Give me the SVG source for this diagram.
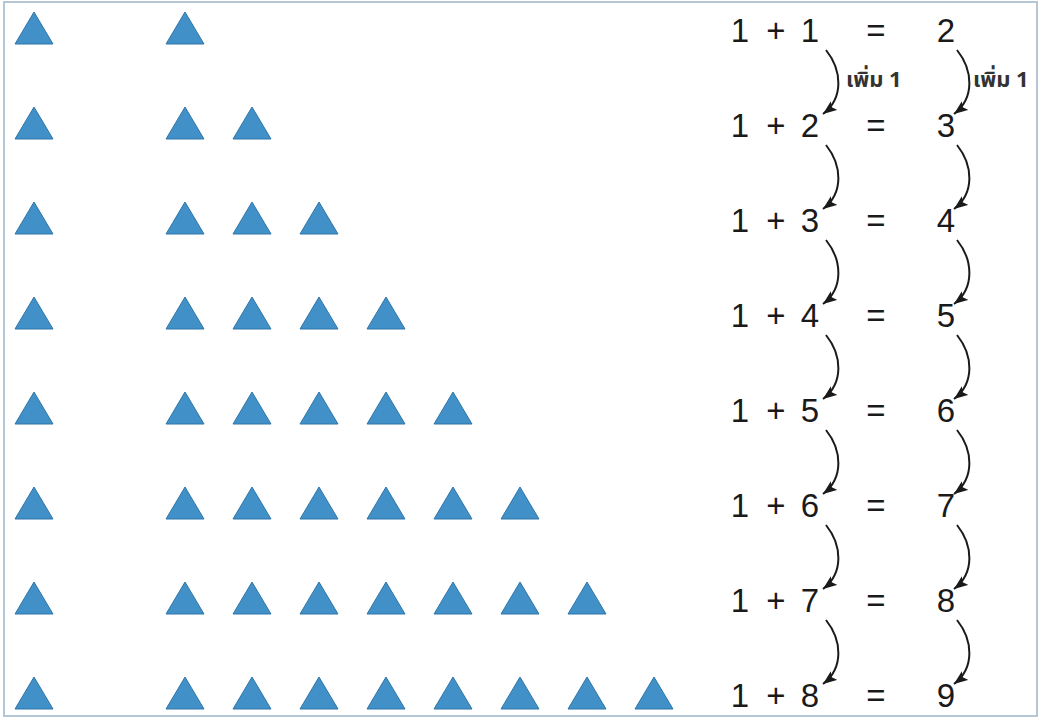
<svg xmlns="http://www.w3.org/2000/svg" width="1041" height="719" viewBox="0 0 1041 719">
<style>
.tri{fill:#4190c7;stroke:#2f76aa;stroke-width:1;stroke-linejoin:round}
.eq{font-family:"Liberation Sans",Arial,sans-serif;font-size:33px;fill:#1a1a1a;text-anchor:middle}
.lbl{font-family:"Noto Sans","Noto Sans Thai","DejaVu Sans",sans-serif;font-size:22px;font-weight:bold;fill:#333}
.arc{fill:none;stroke:#1a1a1a;stroke-width:2;marker-end:url(#ah)}
</style>
<defs>
<marker id="ah" markerUnits="userSpaceOnUse" markerWidth="15" markerHeight="11" refX="14" refY="5.5" orient="auto">
<path d="M0,0 L14,5.5 L0,11 L3,5.5 z" fill="#1a1a1a"/>
</marker>
<path id="t" d="M-19,0 L0,-32 L19,0 z"/>
</defs>
<rect x="0" y="0" width="1041" height="719" fill="#ffffff"/>
<rect x="4" y="2" width="1033" height="714" fill="none" stroke="#b5c7d5" stroke-width="2"/>

<g id="row1"><use href="#t" class="tri" x="34" y="44"/><use href="#t" class="tri" x="185" y="44"/></g>
<g id="row2"><use href="#t" class="tri" x="34" y="139"/><use href="#t" class="tri" x="185" y="139"/><use href="#t" class="tri" x="252" y="139"/></g>
<g id="row3"><use href="#t" class="tri" x="34" y="234"/><use href="#t" class="tri" x="185" y="234"/><use href="#t" class="tri" x="252" y="234"/><use href="#t" class="tri" x="319" y="234"/></g>
<g id="row4"><use href="#t" class="tri" x="34" y="329"/><use href="#t" class="tri" x="185" y="329"/><use href="#t" class="tri" x="252" y="329"/><use href="#t" class="tri" x="319" y="329"/><use href="#t" class="tri" x="386" y="329"/></g>
<g id="row5"><use href="#t" class="tri" x="34" y="424"/><use href="#t" class="tri" x="185" y="424"/><use href="#t" class="tri" x="252" y="424"/><use href="#t" class="tri" x="319" y="424"/><use href="#t" class="tri" x="386" y="424"/><use href="#t" class="tri" x="453" y="424"/></g>
<g id="row6"><use href="#t" class="tri" x="34" y="519"/><use href="#t" class="tri" x="185" y="519"/><use href="#t" class="tri" x="252" y="519"/><use href="#t" class="tri" x="319" y="519"/><use href="#t" class="tri" x="386" y="519"/><use href="#t" class="tri" x="453" y="519"/><use href="#t" class="tri" x="520" y="519"/></g>
<g id="row7"><use href="#t" class="tri" x="34" y="614"/><use href="#t" class="tri" x="185" y="614"/><use href="#t" class="tri" x="252" y="614"/><use href="#t" class="tri" x="319" y="614"/><use href="#t" class="tri" x="386" y="614"/><use href="#t" class="tri" x="453" y="614"/><use href="#t" class="tri" x="520" y="614"/><use href="#t" class="tri" x="587" y="614"/></g>
<g id="row8"><use href="#t" class="tri" x="34" y="709"/><use href="#t" class="tri" x="185" y="709"/><use href="#t" class="tri" x="252" y="709"/><use href="#t" class="tri" x="319" y="709"/><use href="#t" class="tri" x="386" y="709"/><use href="#t" class="tri" x="453" y="709"/><use href="#t" class="tri" x="520" y="709"/><use href="#t" class="tri" x="587" y="709"/><use href="#t" class="tri" x="654" y="709"/></g>

<g id="eq1" class="eq"><text x="740" y="42">1</text><text x="776" y="42">+</text><text x="810" y="42">1</text><text x="876" y="42">=</text><text x="946" y="42">2</text></g>
<g id="eq2" class="eq"><text x="740" y="137">1</text><text x="776" y="137">+</text><text x="810" y="137">2</text><text x="876" y="137">=</text><text x="946" y="137">3</text></g>
<g id="eq3" class="eq"><text x="740" y="232">1</text><text x="776" y="232">+</text><text x="810" y="232">3</text><text x="876" y="232">=</text><text x="946" y="232">4</text></g>
<g id="eq4" class="eq"><text x="740" y="327">1</text><text x="776" y="327">+</text><text x="810" y="327">4</text><text x="876" y="327">=</text><text x="946" y="327">5</text></g>
<g id="eq5" class="eq"><text x="740" y="422">1</text><text x="776" y="422">+</text><text x="810" y="422">5</text><text x="876" y="422">=</text><text x="946" y="422">6</text></g>
<g id="eq6" class="eq"><text x="740" y="517">1</text><text x="776" y="517">+</text><text x="810" y="517">6</text><text x="876" y="517">=</text><text x="946" y="517">7</text></g>
<g id="eq7" class="eq"><text x="740" y="612">1</text><text x="776" y="612">+</text><text x="810" y="612">7</text><text x="876" y="612">=</text><text x="946" y="612">8</text></g>
<g id="eq8" class="eq"><text x="740" y="707">1</text><text x="776" y="707">+</text><text x="810" y="707">8</text><text x="876" y="707">=</text><text x="946" y="707">9</text></g>

<g id="labels" class="lbl"><text x="846" y="87">เพิ่ม 1</text><text x="973" y="87">เพิ่ม 1</text></g>

<g id="connectors">
<path class="arc" d="M826,50 C842,70 844,98 823,114"/>
<path class="arc" d="M826,145 C842,165 844,193 823,209"/>
<path class="arc" d="M826,240 C842,260 844,288 823,304"/>
<path class="arc" d="M826,335 C842,355 844,383 823,399"/>
<path class="arc" d="M826,430 C842,450 844,478 823,494"/>
<path class="arc" d="M826,525 C842,545 844,573 823,589"/>
<path class="arc" d="M826,620 C842,640 844,668 823,684"/>
<path class="arc" d="M957,50 C973,70 975,98 954,114"/>
<path class="arc" d="M957,145 C973,165 975,193 954,209"/>
<path class="arc" d="M957,240 C973,260 975,288 954,304"/>
<path class="arc" d="M957,335 C973,355 975,383 954,399"/>
<path class="arc" d="M957,430 C973,450 975,478 954,494"/>
<path class="arc" d="M957,525 C973,545 975,573 954,589"/>
<path class="arc" d="M957,620 C973,640 975,668 954,684"/>
</g>
</svg>
